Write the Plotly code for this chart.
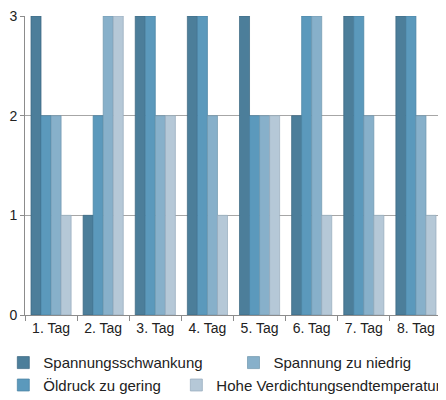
import plotly.graph_objects as go

tage = ["1. Tag", "2. Tag", "3. Tag", "4. Tag", "5. Tag", "6. Tag", "7. Tag", "8. Tag"]

spannungsschwankung = [3, 1, 3, 3, 3, 2, 3, 3]
oeldruck_zu_gering = [2, 2, 3, 3, 2, 3, 3, 3]
spannung_zu_niedrig = [2, 3, 2, 2, 2, 3, 2, 2]
hohe_verdichtung = [1, 3, 2, 1, 2, 1, 1, 1]

y_ticks = [0, 1, 2, 3]

fig = go.Figure()

# one legend per entry so the excel style 2x2 legend can be placed by hand
fig.add_trace(go.Bar(
    x=tage, y=spannungsschwankung, name="Spannungsschwankung",
    marker=dict(color="#4c7e9a", line=dict(width=0.7, color="#3a6680")),
    legend="legend"))
fig.add_trace(go.Bar(
    x=tage, y=oeldruck_zu_gering, name="Öldruck zu gering",
    marker=dict(color="#5b99bc", line=dict(width=0.7, color="#4781a2")),
    legend="legend2"))
fig.add_trace(go.Bar(
    x=tage, y=spannung_zu_niedrig, name="Spannung zu niedrig",
    marker=dict(color="#87b0ca", line=dict(width=0.7, color="#6f96ae")),
    legend="legend3"))
fig.add_trace(go.Bar(
    x=tage, y=hohe_verdichtung, name="Hohe Verdichtungsendtemperatur",
    marker=dict(color="#b5c8d7", line=dict(width=0.7, color="#95abbc")),
    legend="legend4"))

leg = dict(orientation="h", xanchor="left", yanchor="middle",
           font=dict(size=15), itemwidth=30, bgcolor="rgba(0,0,0,0)")

fig.update_layout(
    width=438, height=392, showlegend=True,
    margin=dict(l=17, r=4, t=8, b=85, autoexpand=False),
    paper_bgcolor="white", plot_bgcolor="white",
    barmode="group", bargap=0.23, bargroupgap=0,
    font=dict(family="Liberation Sans, Arial", size=14, color="#222222"),
    legend=dict(leg, x=-0.052, y=-0.16),
    legend2=dict(leg, x=-0.052, y=-0.235),
    legend3=dict(leg, x=0.500, y=-0.16),
    legend4=dict(leg, x=0.363, y=-0.235),
)

fig.update_xaxes(
    showline=True, linecolor="#8c8c8c", linewidth=1, automargin=False,
    ticks="outside", tickson="boundaries", ticklen=5, tickcolor="#8c8c8c",
    tickfont=dict(size=14, color="#222222"))
fig.update_yaxes(
    range=[0, 3], tickvals=y_ticks, showgrid=True, gridcolor="#a6a6a6", gridwidth=1,
    showline=True, linecolor="#8c8c8c", linewidth=1, automargin=False,
    ticks="outside", ticklen=4, tickcolor="#8c8c8c", zeroline=False,
    ticklabeloverflow="allow",
    tickfont=dict(size=14, color="#222222"))

fig.write_html("out.html")
